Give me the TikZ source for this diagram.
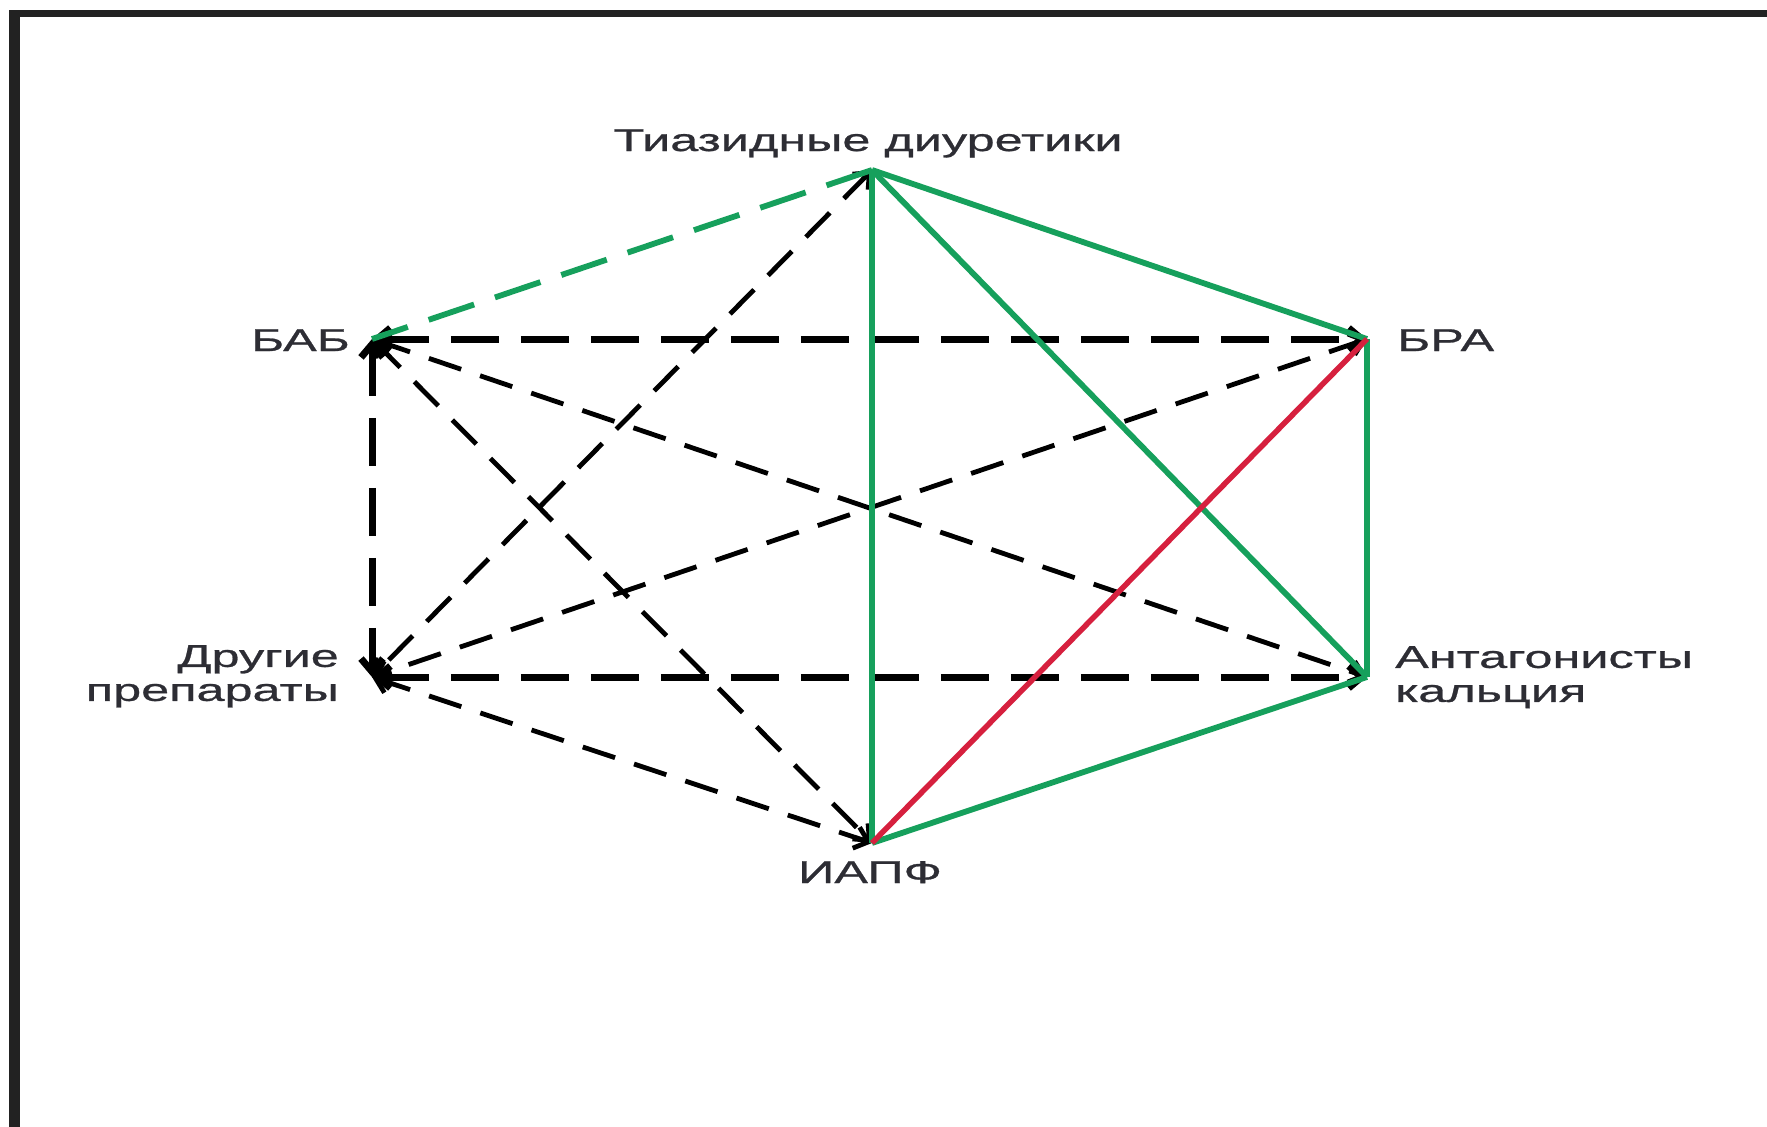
\documentclass[tikz,border=0pt]{standalone}
\usepackage{fontspec}
\setmainfont{Liberation Sans}[FakeStretch=1.6,FakeBold=0.8]
\usetikzlibrary{arrows.meta}
\definecolor{grn}{RGB}{22,160,92}
\definecolor{rd}{RGB}{214,32,62}
\definecolor{txt}{RGB}{45,45,52}
\definecolor{frame}{RGB}{34,34,34}
\begin{document}
\begin{tikzpicture}[x=1pt,y=-1pt,
  >={Straight Barb[length=13pt,width=22pt]},
  lbl/.style={font=\fontsize{31.5}{34}\selectfont, text=txt, inner sep=0pt},
  gline/.style={draw=grn, line width=5.8pt},
  gdash/.style={draw=grn, line width=5.8pt, dash pattern=on 48pt off 22pt},
  rline/.style={draw=rd, line width=5.5pt},
  thinarr/.style={draw=black, line width=4.8pt, dash pattern=on 34pt off 20pt, <->},
  thickarr/.style={draw=black, line width=7pt, dash pattern=on 48pt off 22pt, <->},
]
\useasboundingbox (0,0) rectangle (1767,1127);
\fill[white] (0,0) rectangle (1767,1127);
% frame
\fill[frame] (9,10) rectangle (1767,17);
\fill[frame] (9,10) rectangle (20,1127);

% vertices
\coordinate (T) at (872,170);
\coordinate (B) at (372,339);
\coordinate (R) at (1367,339);
\coordinate (O) at (372,677);
\coordinate (C) at (1367,677);
\coordinate (I) at (872,843);

% labels
\node[lbl, anchor=base] (lT) at (868,151) {Тиазидные диуретики};
\node[lbl, anchor=base east] (lB) at (350,351) {БАБ};
\node[lbl, anchor=base west] (lR) at (1397,351) {БРА};
\node[lbl, anchor=north east, align=right] (lO) at (339,645) {Другие\\препараты};
\node[lbl, anchor=north west, align=left] (lC) at (1395,646) {Антагонисты\\кальция};
\node[lbl, anchor=base] (lI) at (870,883) {ИАПФ};

% black dashed connectors
\draw[thickarr] (B) -- (R);
\draw[thickarr] (B) -- (O);
\draw[thickarr] (O) -- (C);
\draw[thinarr] (B) -- (C);
\draw[thinarr] (B) -- (I);
\draw[thinarr] (T) -- (O);
\draw[thinarr] (R) -- (O);
\draw[thinarr] (O) -- (I);

% green connectors
\draw[gdash] (T) -- (B);
\draw[gline] (T) -- (I);
\draw[gline] (T) -- (R);
\draw[gline] (T) -- (C);
\draw[gline] (R) -- (C);
\draw[gline] (C) -- (I);

% red connector
\draw[rline] (R) -- (I);
\end{tikzpicture}
\end{document}
